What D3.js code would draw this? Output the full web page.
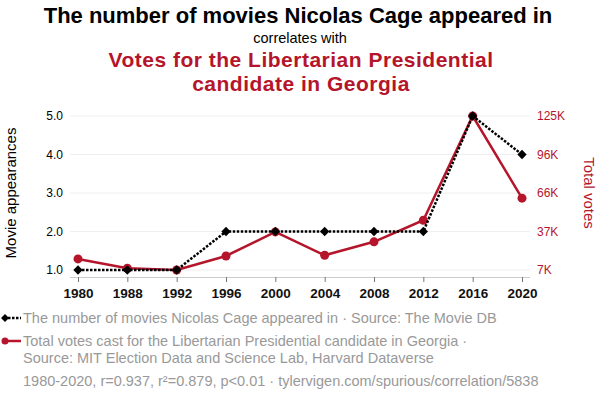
<!DOCTYPE html>
<html>
<head>
<meta charset="utf-8">
<script src="https://cdn.jsdelivr.net/npm/d3@7"></script>
<style>
  body { margin: 0; background: #fff; }
  svg { font-family: "Liberation Sans", Arial, sans-serif; display: block; }
</style>
</head>
<body>
<svg id="chart"></svg>
<script>
// data
var years = [1980, 1988, 1992, 1996, 2000, 2004, 2008, 2012, 2016, 2020];
var movies = [1, 1, 1, 2, 2, 2, 2, 2, 5, 4];
var votes = [15627, 8435, 7110, 17870, 36332, 18387, 28731, 45324, 125306, 62229];
var leftTicks = [1, 2, 3, 4, 5];
var rightTickLabels = ["7K", "37K", "66K", "96K", "125K"];

var red = "#b5152b";
var width = 600, height = 398;
var margin = {left: 78, right: 78, top: 116, bottom: 121};

var svg = d3.select("#chart").attr("width", width).attr("height", height);

// titles
svg.append("text").attr("x", 298).attr("y", 23).attr("text-anchor", "middle")
  .attr("font-size", 22).attr("font-weight", "bold").attr("fill", "#000")
  .text("The number of movies Nicolas Cage appeared in");
svg.append("text").attr("x", 300).attr("y", 43).attr("text-anchor", "middle")
  .attr("font-size", 14.5).attr("fill", "#000").text("correlates with");
var sub = svg.append("text").attr("text-anchor", "middle")
  .attr("font-size", 21).attr("font-weight", "bold").attr("letter-spacing", 0.5).attr("fill", red);
sub.append("tspan").attr("x", 301).attr("y", 67).text("Votes for the Libertarian Presidential");
sub.append("tspan").attr("x", 301).attr("y", 90.8).text("candidate in Georgia");

var x = d3.scalePoint().domain(years).range([margin.left, width - margin.right]);
var yL = d3.scaleLinear().domain([1, 5]).range([270, margin.top]);
var yR = d3.scaleLinear().domain([d3.min(votes), d3.max(votes)]).range([270, margin.top]);

// gridlines
svg.append("g").selectAll("line").data(leftTicks).enter().append("line")
  .attr("x1", 70).attr("x2", 530)
  .attr("y1", function(d){ return yL(d); }).attr("y2", function(d){ return yL(d); })
  .attr("stroke", "#eee").attr("stroke-width", 1);

// left axis
var gL = svg.append("g").attr("transform", "translate(" + 65 + ",0)")
  .call(d3.axisLeft(yL).tickValues(leftTicks).tickFormat(d3.format(".1f")).tickSize(0).tickPadding(2));
gL.select(".domain").remove();
gL.selectAll("text").attr("font-size", 12).attr("fill", "#000").attr("font-family", "Liberation Sans, Arial, sans-serif");

// right axis
var rTickVals = d3.range(5).map(function(i){ return yR.domain()[0] + i * (yR.domain()[1] - yR.domain()[0]) / 4; });
var gR = svg.append("g").attr("transform", "translate(" + 535 + ",0)")
  .call(d3.axisRight(yR).tickValues(rTickVals).tickFormat(function(d, i){ return rightTickLabels[i]; }).tickSize(0).tickPadding(2));
gR.select(".domain").remove();
gR.selectAll("text").attr("font-size", 12).attr("fill", red).attr("font-family", "Liberation Sans, Arial, sans-serif");

// x axis
var gX = svg.append("g").attr("transform", "translate(0," + 277 + ")")
  .call(d3.axisBottom(x).tickSize(5).tickPadding(6));
gX.select(".domain").attr("stroke", "#ccc").attr("d", "M70,0.5H530");
gX.selectAll(".tick line").attr("stroke", "#777");
gX.selectAll("text").attr("font-size", 13.5).attr("font-weight", "bold").attr("fill", "#111")
  .attr("font-family", "Liberation Sans, Arial, sans-serif");

// axis titles
svg.append("text").attr("transform", "translate(16,193) rotate(-90)").attr("text-anchor", "middle")
  .attr("font-size", 15).attr("fill", "#000").text("Movie appearances");
svg.append("text").attr("transform", "translate(584,193) rotate(90)").attr("text-anchor", "middle")
  .attr("font-size", 15).attr("fill", red).text("Total votes");

// red series
var redLine = d3.line().x(function(d, i){ return x(years[i]); }).y(function(d){ return yR(d); });
svg.append("path").datum(votes).attr("d", redLine).attr("fill", "none")
  .attr("stroke", red).attr("stroke-width", 2.5);
svg.append("g").selectAll("circle").data(votes).enter().append("circle")
  .attr("cx", function(d, i){ return x(years[i]); }).attr("cy", function(d){ return yR(d); })
  .attr("r", 4.5).attr("fill", red);

// black series
var blackLine = d3.line().x(function(d, i){ return x(years[i]); }).y(function(d){ return yL(d); });
svg.append("path").datum(movies).attr("d", blackLine).attr("fill", "none")
  .attr("stroke", "#000").attr("stroke-width", 2.5).attr("stroke-dasharray", "2.5,1.5");
var diamond = d3.symbol().type(d3.symbolDiamond2).size(55);
svg.append("g").selectAll("path").data(movies).enter().append("path")
  .attr("d", diamond)
  .attr("transform", function(d, i){ return "translate(" + x(years[i]) + "," + yL(d) + ")"; })
  .attr("fill", "#000");

// legend
var leg = svg.append("g");
leg.append("line").attr("x1", 4).attr("x2", 21).attr("y1", 318).attr("y2", 318)
  .attr("stroke", "#000").attr("stroke-width", 2.5).attr("stroke-dasharray", "2.5,1.5");
leg.append("path").attr("d", d3.symbol().type(d3.symbolDiamond2).size(40))
  .attr("transform", "translate(5,318)").attr("fill", "#000");
leg.append("text").attr("x", 23).attr("y", 322.5).attr("font-size", 14.5).attr("fill", "#999")
  .text("The number of movies Nicolas Cage appeared in \u00b7 Source: The Movie DB");

leg.append("line").attr("x1", 4).attr("x2", 21).attr("y1", 341).attr("y2", 341)
  .attr("stroke", red).attr("stroke-width", 2.5);
leg.append("circle").attr("cx", 5).attr("cy", 341).attr("r", 3.5).attr("fill", red);
var l2 = leg.append("text").attr("font-size", 14.5).attr("fill", "#999");
l2.append("tspan").attr("x", 23).attr("y", 346)
  .text("Total votes cast for the Libertarian Presidential candidate in Georgia \u00b7");
l2.append("tspan").attr("x", 23).attr("y", 362.5)
  .text("Source: MIT Election Data and Science Lab, Harvard Dataverse");
leg.append("text").attr("x", 23).attr("y", 386).attr("font-size", 14.5).attr("fill", "#999")
  .text("1980-2020, r=0.937, r\u00b2=0.879, p<0.01 \u00b7 tylervigen.com/spurious/correlation/5838");
</script>
</body>
</html>
